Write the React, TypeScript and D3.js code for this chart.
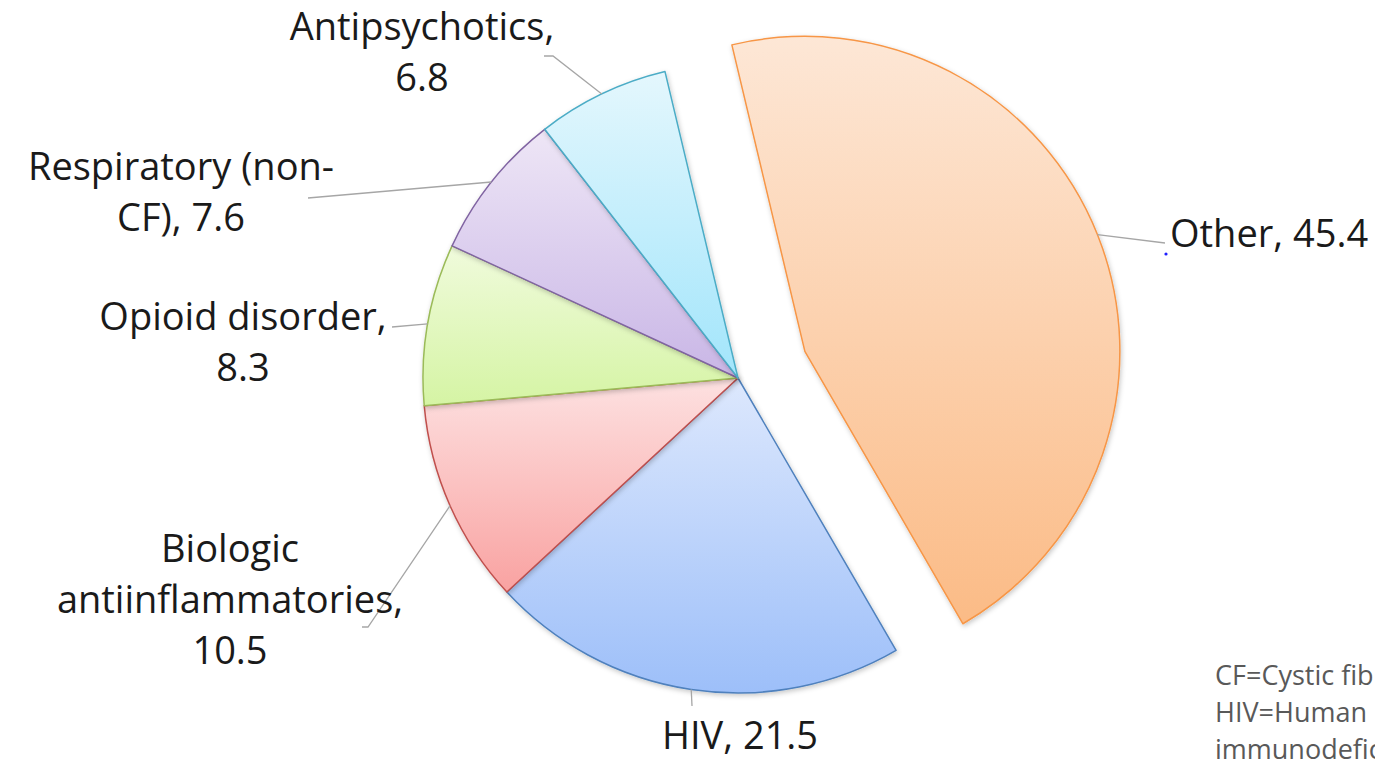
import * as d3 from "d3";
import { useEffect } from "react";

// share of spending, by drug class
const categories = ["Other", "HIV", "Biologic antiinflammatories", "Opioid disorder", "Respiratory (non-CF)", "Antipsychotics"];
const values = [45.4, 21.5, 10.5, 8.3, 7.6, 6.8];
const labelLines = [
  ["Other, 45.4"],
  ["HIV, 21.5"],
  ["Biologic", "antiinflammatories,", "10.5"],
  ["Opioid disorder,", "8.3"],
  ["Respiratory (non-", "CF), 7.6"],
  ["Antipsychotics,", "6.8"],
];
const footnotes = ["CF=Cystic fibrosis", "HIV=Human", "immunodeficiency virus"];

const topColors = ["#fde7d6", "#dde8fd", "#fde1e1", "#f0fbdc", "#eee6f6", "#e4f7fd"];
const bottomColors = ["#fbbb86", "#9dbff9", "#f9a2a1", "#d5f4a4", "#c9b6e6", "#a2e5fb"];
const strokeColors = ["#f79646", "#4f81bd", "#c0504d", "#9bbb59", "#8064a2", "#4bacc6"];

// label layout: anchor x, first baseline, text-anchor, leader end points
const labelLayout = [
  { x: 1170, y: 247, anchor: "start", leader: [[1165, 243]] },
  { x: 740, y: 749, anchor: "middle", leader: [[692, 706]] },
  { x: 230, y: 562, anchor: "middle", leader: [[368, 627], [362, 627]] },
  { x: 243, y: 330, anchor: "middle", leader: [[392, 327]] },
  { x: 181, y: 180, anchor: "middle", leader: [[308, 198]] },
  { x: 422, y: 40, anchor: "middle", leader: [[553, 56], [544, 56]] },
];

export default function App() {
  useEffect(() => {
    document.body.style.margin = "0";
  }, []);

  const width = 1375;
  const height = 761;
  const cx = 738;
  const cy = 378;
  const r = 315;
  const explode = 72;
  const a0 = (-13.4 * Math.PI) / 180;

  const pie = d3
    .pie<number>()
    .sort(null)
    .value((d) => d)
    .startAngle(a0)
    .endAngle(a0 + 2 * Math.PI);
  const arcs = pie(values);
  const arc = d3.arc<d3.PieArcDatum<number>>().innerRadius(0).outerRadius(r);

  const font = "'Open Sans', 'Noto Sans', sans-serif";

  return (
    <div style={{ position: "absolute", left: 0, top: 0 }}>
      <svg width={width} height={height} style={{ display: "block", background: "#fff" }}>
        <defs>
          {values.map((_, i) => (
            <linearGradient key={i} id={`g${i}`} x1="0" y1="0" x2="0" y2="1">
              <stop offset="0%" stopColor={topColors[i]} />
              <stop offset="100%" stopColor={bottomColors[i]} />
            </linearGradient>
          ))}
          <filter id="shadow" x="-20%" y="-20%" width="140%" height="140%">
            <feDropShadow dx="1" dy="2" stdDeviation="2.5" floodColor="#000" floodOpacity="0.22" />
          </filter>
        </defs>
        <g transform={`translate(${cx},${cy})`}>
          {arcs.map((a, i) => {
            const mid = (a.startAngle + a.endAngle) / 2;
            const off = i === 0 ? explode : 0;
            const dx = off * Math.sin(mid);
            const dy = -off * Math.cos(mid);
            return (
              <path
                key={i}
                d={arc(a) as string}
                transform={`translate(${dx},${dy})`}
                fill={`url(#g${i})`}
                stroke={strokeColors[i]}
                strokeWidth={1.5}
                strokeLinejoin="round"
                filter="url(#shadow)"
              />
            );
          })}
        </g>
        {arcs.map((a, i) => {
          const mid = (a.startAngle + a.endAngle) / 2;
          const off = i === 0 ? explode : 0;
          const ex = cx + (r + off) * Math.sin(mid);
          const ey = cy - (r + off) * Math.cos(mid);
          const pts = [[ex, ey], ...labelLayout[i].leader];
          const line = d3.line()(pts as [number, number][]) as string;
          return <path key={i} d={line} fill="none" stroke="#a6a6a6" strokeWidth={1.3} />;
        })}
        {labelLines.map((lines, i) => (
          <text
            key={i}
            x={labelLayout[i].x}
            y={labelLayout[i].y}
            textAnchor={labelLayout[i].anchor}
            fontFamily={font}
            fontSize={38}
            fill="#1a1a1a"
          >
            {lines.map((t, j) => (
              <tspan key={j} x={labelLayout[i].x} dy={j === 0 ? 0 : 51}>
                {t}
              </tspan>
            ))}
          </text>
        ))}
        <circle cx={1166} cy={254} r={1.6} fill="#1f1fff" />
        <text x={1215} y={685} fontFamily={font} fontSize={27} fill="#595959">
          {footnotes.map((t, j) => (
            <tspan key={j} x={1215} dy={j === 0 ? 0 : 37}>
              {t}
            </tspan>
          ))}
        </text>
      </svg>
    </div>
  );
}
